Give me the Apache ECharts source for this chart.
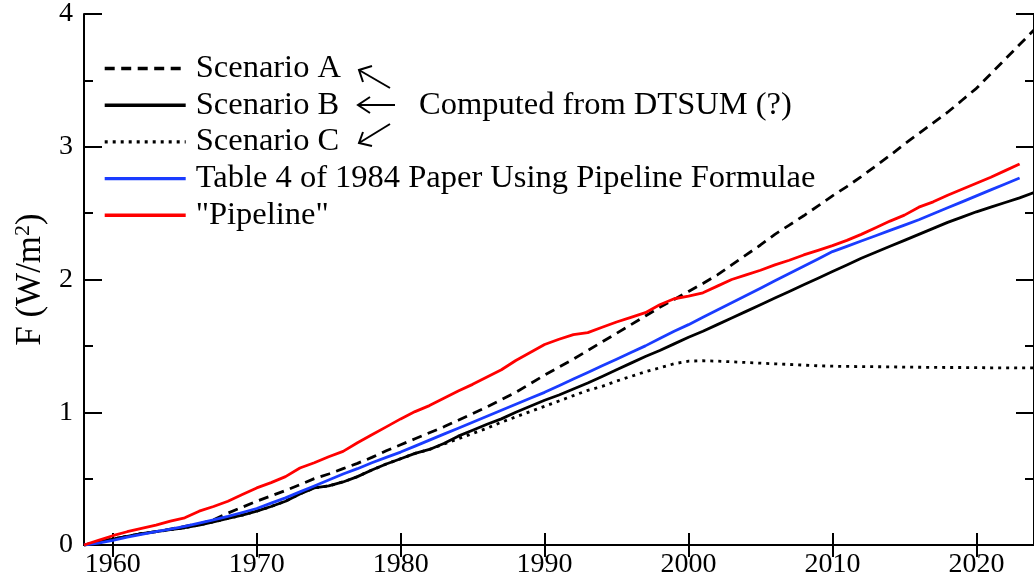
<!DOCTYPE html>
<html>
<head>
<meta charset="utf-8">
<script src="https://cdn.jsdelivr.net/npm/echarts@6/dist/echarts.min.js"></script>
<style>
  html, body { margin: 0; padding: 0; background: #fff; }
  #chart { width: 1034px; height: 582px; }
</style>
</head>
<body>
<div id="chart"></div>
<script>
// ---- Data ----
const xTicks = [1960, 1970, 1980, 1990, 2000, 2010, 2020];
const yTicks = [0, 1, 2, 3, 4];

const yearsAB = [1958,1959,1960,1961,1962,1963,1964,1965,1966,1967,1968,1969,1970,1971,1972,1973,1974,1975,1976,1977,1978,1979,1980,1981,1982,1983,1984,1985,1986,1987,1988,1989,1990,1991,1992,1993,1994,1995,1996,1997,1998,1999,2000,2001,2002,2003,2004,2005,2006,2007,2008,2009,2010,2011,2012,2013,2014,2015,2016,2017,2018,2019,2020,2021,2022,2023,2024];

const scenarioA = [0,0.02,0.045,0.065,0.085,0.10,0.12,0.14,0.16,0.19,0.24,0.285,0.33,0.37,0.41,0.455,0.50,0.535,0.575,0.615,0.66,0.71,0.755,0.80,0.845,0.89,0.94,0.99,1.04,1.095,1.15,1.215,1.28,1.34,1.40,1.465,1.53,1.595,1.66,1.725,1.79,1.85,1.91,1.97,2.035,2.11,2.185,2.26,2.34,2.41,2.48,2.555,2.63,2.70,2.775,2.855,2.935,3.02,3.10,3.18,3.26,3.35,3.44,3.55,3.66,3.77,3.88];

const scenarioB = [0,0.02,0.045,0.065,0.085,0.10,0.115,0.13,0.15,0.175,0.20,0.225,0.255,0.29,0.33,0.385,0.43,0.445,0.475,0.515,0.565,0.61,0.65,0.69,0.72,0.765,0.82,0.865,0.91,0.95,1.00,1.045,1.09,1.13,1.175,1.22,1.27,1.32,1.37,1.42,1.465,1.515,1.565,1.61,1.66,1.71,1.76,1.81,1.86,1.91,1.96,2.01,2.06,2.11,2.16,2.205,2.25,2.295,2.34,2.385,2.43,2.47,2.51,2.545,2.58,2.615,2.655];

const scenarioC = [0,0.02,0.045,0.065,0.085,0.10,0.115,0.13,0.15,0.175,0.20,0.225,0.255,0.29,0.33,0.385,0.43,0.445,0.475,0.515,0.565,0.61,0.65,0.69,0.72,0.76,0.80,0.84,0.88,0.925,0.965,1.005,1.045,1.085,1.125,1.165,1.195,1.235,1.27,1.305,1.335,1.365,1.385,1.388,1.385,1.38,1.375,1.37,1.365,1.36,1.355,1.35,1.347,1.345,1.344,1.343,1.342,1.34,1.339,1.338,1.337,1.337,1.336,1.335,1.335,1.334,1.334];

const yearsPipe = [1958,1959,1960,1961,1962,1963,1964,1965,1966,1967,1968,1969,1970,1971,1972,1973,1974,1975,1976,1977,1978,1979,1980,1981,1982,1983,1984,1985,1986,1987,1988,1989,1990,1991,1992,1993,1994,1995,1996,1997,1998,1999,2000,2001,2002,2003,2004,2005,2006,2007,2008,2009,2010,2011,2012,2013,2014,2015,2016,2017,2018,2019,2020,2021,2022,2023];

const table4 = [0,0.015,0.035,0.06,0.08,0.10,0.12,0.14,0.165,0.19,0.215,0.245,0.275,0.315,0.355,0.40,0.445,0.49,0.535,0.575,0.62,0.66,0.70,0.745,0.79,0.835,0.88,0.925,0.97,1.015,1.06,1.105,1.15,1.20,1.25,1.30,1.35,1.40,1.45,1.50,1.555,1.61,1.66,1.715,1.77,1.825,1.88,1.935,1.99,2.045,2.10,2.155,2.21,2.25,2.29,2.33,2.37,2.41,2.45,2.495,2.54,2.585,2.63,2.675,2.72,2.765];

const pipeline = [0,0.035,0.07,0.10,0.125,0.15,0.18,0.205,0.255,0.29,0.33,0.38,0.43,0.47,0.515,0.58,0.62,0.665,0.705,0.77,0.83,0.89,0.95,1.005,1.05,1.105,1.16,1.21,1.265,1.32,1.39,1.45,1.51,1.55,1.585,1.60,1.64,1.68,1.715,1.75,1.81,1.855,1.875,1.90,1.95,2.00,2.035,2.07,2.11,2.145,2.185,2.22,2.255,2.295,2.34,2.39,2.44,2.485,2.545,2.585,2.635,2.68,2.725,2.77,2.82,2.87];

const seriesNames = ['Scenario A', 'Scenario B', 'Scenario C', 'Table 4 of 1984 Paper Using Pipeline Formulae', '"Pipeline"'];
const annotationText = 'Computed from DTSUM (?)';

// ---- Build chart ----
const pair = (xs, ys) => xs.map((x, i) => [x, ys[i]]);
const FONT = '"Liberation Serif", "Times New Roman", serif';

const chart = echarts.init(document.getElementById('chart'), null, { renderer: 'canvas' });

const axisLineStyle = { color: '#000', width: 2 };

function lineSeries(name, data, color, type) {
  return {
    name: name,
    type: 'line',
    data: data,
    showSymbol: false,
    symbol: 'none',
    smooth: false,
    lineStyle: { color: color, width: 2.8, type: type },
    itemStyle: { color: color },
    emphasis: { disabled: true },
    animation: false
  };
}

const option = {
  animation: false,
  backgroundColor: '#fff',
  grid: { left: 84, right: -6, top: 14, bottom: 37, containLabel: false },
  legend: {
    orient: 'vertical',
    left: 103,
    top: 52,
    padding: 0,
    itemWidth: 81,
    itemHeight: 14,
    itemGap: 3.7,
    selectedMode: false,
    data: seriesNames,
    itemStyle: { opacity: 0, borderWidth: 0 },
    lineStyle: { width: 3.4 },
    textStyle: { fontFamily: FONT, fontSize: 32.5, color: '#000', lineHeight: 32, padding: [0, 0, 0, 5] }
  },
  xAxis: [
    {
      type: 'value', position: 'bottom', min: 1958, max: 2024,
      axisLine: { show: true, lineStyle: axisLineStyle },
      axisTick: { show: true, inside: true, length: 12, lineStyle: { color: '#000', width: 2 }, customValues: xTicks },
      axisLabel: { show: true, margin: 6, color: '#000', fontFamily: FONT, fontSize: 28, customValues: xTicks, formatter: v => String(v) },
      splitLine: { show: false }
    },
    {
      type: 'value', position: 'top', min: 1958, max: 2024,
      axisLine: { show: true, lineStyle: axisLineStyle },
      axisTick: { show: true, inside: true, length: 12, lineStyle: { color: '#000', width: 2 }, customValues: xTicks },
      axisLabel: { show: false },
      splitLine: { show: false }
    }
  ],
  yAxis: [
    {
      type: 'value', position: 'left', min: 0, max: 4, interval: 1,
      name: '{a|F (W/m}{s|2}{a|)}',
      nameLocation: 'middle', nameGap: 22, nameRotate: 90,
      nameTextStyle: {
        rich: {
          a: { fontFamily: FONT, fontSize: 35, color: '#000' },
          s: { fontFamily: FONT, fontSize: 22, color: '#000', verticalAlign: 'top', padding: [0, 0, 14, 0] }
        }
      },
      axisLine: { show: true, lineStyle: axisLineStyle },
      axisTick: { show: true, inside: true, length: 18, lineStyle: { color: '#000', width: 2 } },
      minorTick: { show: true, splitNumber: 2, length: 9, lineStyle: { color: '#000', width: 2 } },
      axisLabel: { show: true, margin: 11, color: '#000', fontFamily: FONT, fontSize: 28, formatter: v => String(v) },
      splitLine: { show: false },
      minorSplitLine: { show: false }
    },
    {
      type: 'value', position: 'right', min: 0, max: 4, interval: 1,
      axisLine: { show: true, lineStyle: axisLineStyle },
      axisTick: { show: true, inside: true, length: 18, lineStyle: { color: '#000', width: 2 } },
      minorTick: { show: true, splitNumber: 2, length: 9, lineStyle: { color: '#000', width: 2 } },
      axisLabel: { show: false },
      splitLine: { show: false },
      minorSplitLine: { show: false }
    }
  ],
  series: [
    lineSeries(seriesNames[0], pair(yearsAB, scenarioA), '#000', [10, 6.5]),
    lineSeries(seriesNames[1], pair(yearsAB, scenarioB), '#000', 'solid'),
    lineSeries(seriesNames[2], pair(yearsAB, scenarioC), '#000', [3, 5]),
    lineSeries(seriesNames[3], pair(yearsPipe, table4), '#1a3cff', 'solid'),
    lineSeries(seriesNames[4], pair(yearsPipe, pipeline), '#ff0000', 'solid')
  ],
  graphic: [
    { type: 'polyline', shape: { points: [[390, 88], [359, 70]] }, style: { stroke: '#000', lineWidth: 2, fill: null } },
    { type: 'polyline', shape: { points: [[372, 66], [359, 70], [363, 82]] }, style: { stroke: '#000', lineWidth: 2, fill: null } },
    { type: 'polyline', shape: { points: [[395, 105], [358, 105]] }, style: { stroke: '#000', lineWidth: 2, fill: null } },
    { type: 'polyline', shape: { points: [[370, 97], [358, 105], [370, 113]] }, style: { stroke: '#000', lineWidth: 2, fill: null } },
    { type: 'polyline', shape: { points: [[390, 124], [359, 143]] }, style: { stroke: '#000', lineWidth: 2, fill: null } },
    { type: 'polyline', shape: { points: [[363, 132], [359, 143], [372, 146]] }, style: { stroke: '#000', lineWidth: 2, fill: null } },
    {
      type: 'text', left: 419, top: 89,
      style: { text: annotationText, fill: '#000', font: '32.5px ' + FONT }
    }
  ]
};

chart.setOption(option);
</script>
</body>
</html>
